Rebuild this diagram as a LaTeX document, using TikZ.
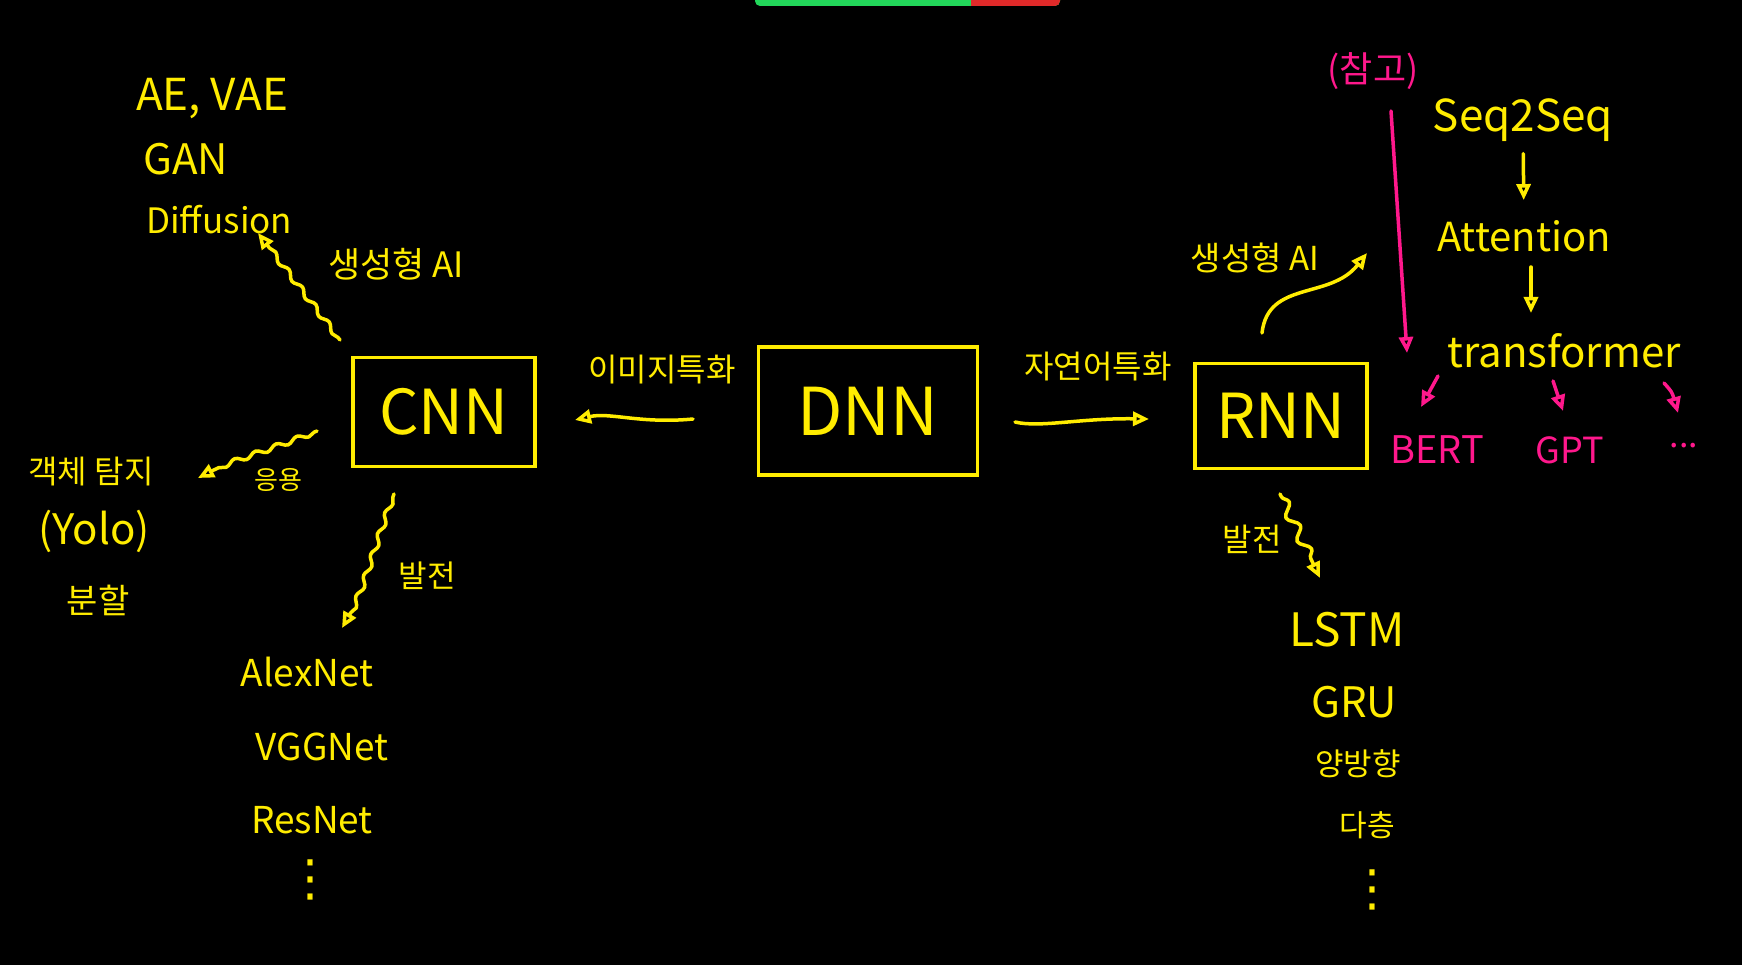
\documentclass[tikz,border=0pt]{standalone}
\usepackage{fontspec}
\setmainfont{Noto Sans CJK KR}
\newfontfamily\symfont{DejaVu Sans}
\usetikzlibrary{positioning,arrows.meta,decorations.pathmorphing}
\definecolor{penyellow}{RGB}{255,236,0}
\definecolor{penpink}{RGB}{255,24,140}
\definecolor{bargreen}{RGB}{34,214,90}
\definecolor{barred}{RGB}{224,42,42}
\newcommand{\fsz}[1]{\fontsize{#1}{#1}\selectfont}
\tikzset{
  pen/.style = {draw=penyellow, line width=3.5pt, line cap=round, line join=round},
  pinkpen/.style = {pen, draw=penpink},
  netbox/.style = {draw=penyellow, line width=3.5pt, rectangle, text=penyellow,
    inner sep=0pt},% box of a network family
  word/.style = {text=penyellow, inner sep=0pt},
  pinkword/.style = {word, text=penpink},
  dotcol/.style = {word, font=\symfont\fsz{50}},% vertical dots
  tip/.style = {-{Triangle[open,length=16pt,width=14pt]}},
  wavy/.style = {decorate, decoration={snake, amplitude=2.5pt,
    segment length=22pt, pre length=3pt, post length=14pt}},
  bigwavy/.style = {decorate, decoration={snake, amplitude=5pt,
    segment length=26pt, pre length=3pt, post length=14pt}}
}

\begin{document}
\begin{tikzpicture}[x=1pt,y=-1pt]
\useasboundingbox (0,0) rectangle (1742,965);
\fill[black] (0,0) rectangle (1742,965);
% top bar
\fill[bargreen, rounded corners=5pt] (755,-8) rectangle (1060,6);
\fill[barred, rounded corners=5pt] (971,-8) rectangle (1060,6);
\fill[barred] (971,-8) rectangle (990,6);

% network boxes
\node[netbox, minimum width=182pt, minimum height=109pt, font=\fsz{62}] (cnn) at (444,412) {CNN};
\node[netbox, minimum width=219pt, minimum height=128pt, font=\fsz{66}] (dnn) at (868,411) {DNN};
\node[netbox, minimum width=172pt, minimum height=105pt, font=\fsz{62}] (rnn) at (1281,416) {RNN};

% CNN side
\node[word, anchor=west, font=\fsz{44}] (aevae) at (136,99) {AE, VAE};
\node[word, anchor=west, font=\fsz{42}] (gan) at (143,159) {GAN};
\node[word, anchor=west, font=\fsz{35}] (diff) at (146,220) {Diffusion};
\node[word, font=\fsz{35}] (gencnn) at (396,264) {생성형 AI};
\node[word, font=\fsz{32}] (detect) at (91,472) {객체 탐지};
\node[word, font=\fsz{42}] (yolo) at (94,531) {(Yolo)};
\node[word, font=\fsz{34}] (segm) at (98,600) {분할};
\node[word, font=\fsz{26}] (apply) at (278,480) {응용};
\node[word, font=\fsz{31}] (devcnn) at (427,576) {발전};
\node[word, font=\fsz{37}] (alex) at (307,672) {AlexNet};
\node[word, font=\fsz{37}] (vgg) at (322,747) {VGGNet};
\node[word, font=\fsz{37}] (resnet) at (312,820) {ResNet};
\node[dotcol] (cnndots) at (310,880) {⋮};

% between the boxes
\node[word, font=\fsz{32}] (imgspec) at (662,370) {이미지특화};
\node[word, font=\fsz{32}] (nlpspec) at (1098,367) {자연어특화};

% RNN side
\node[word, font=\fsz{33}] (genrnn) at (1255,258) {생성형 AI};
\node[word, font=\fsz{32}] (devrnn) at (1252,539) {발전};
\node[word, font=\fsz{46}] (lstm) at (1347,630) {LSTM};
\node[word, font=\fsz{42}] (gru) at (1354,702) {GRU};
\node[word, font=\fsz{31}] (bidir) at (1358,764) {양방향};
\node[word, font=\fsz{30}] (multi) at (1367,825) {다층};
\node[dotcol] (rnndots) at (1372,890) {⋮};

% transformer line
\node[pinkword, font=\fsz{36}] (refnote) at (1373,71) {(참고)};
\node[word, font=\fsz{44}] (seqseq) at (1523,120) {Seq2Seq};
\node[word, font=\fsz{40}] (attn) at (1524,236) {Attention};
\node[word, font=\fsz{42}] (trans) at (1564,351) {transformer};
\node[pinkword, font=\fsz{38}] (bert) at (1437,450) {BERT};
\node[pinkword, font=\fsz{36}] (gpt) at (1570,450) {GPT};
\node[pinkword, font=\fsz{34}] (more) at (1684,446) {...};

% free ends of the connectors
\coordinate (cnngen) at (340,340);
\coordinate (difftip) at (258,233);
\coordinate (cnnapp) at (317,431);
\coordinate (apptip) at (198,478);
\coordinate (cnndev) at (394,494);
\coordinate (devtip) at (342,628);
\coordinate (dnnimg) at (693,419);
\coordinate (imgtip) at (575,420);
\coordinate (dnnnlp) at (1015,422);
\coordinate (nlptip) at (1149,419);
\coordinate (rnngen) at (1262,333);
\coordinate (gentip) at (1367,253);
\coordinate (rnndev) at (1280,494);
\coordinate (rdevtip) at (1320,578);
\coordinate (refstart) at (1391,111);
\coordinate (reftip) at (1407,353);
\coordinate (attnout) at (1531,267);
\coordinate (transin) at (1531,313);
\coordinate (bertout) at (1438,376);
\coordinate (berttip) at (1421,407);
\coordinate (gptout) at (1553,381);
\coordinate (gpttip) at (1563,411);
\coordinate (moreout) at (1664,383);
\coordinate (moretip) at (1678,413);

% connectors
\draw[pen, tip, wavy] (cnngen) -- (difftip);
\draw[pen, tip, wavy] (cnnapp) .. controls (270,450) and (230,460) .. (apptip);
\draw[pen, tip, wavy] (cnndev) .. controls (370,560) and (365,590) .. (devtip);
\draw[pen, tip] (dnnimg) .. controls (640,424) and (610,412) .. (imgtip);
\draw[pen, tip] (dnnnlp) .. controls (1040,428) and (1080,418) .. (nlptip);
\draw[pen, tip] (rnngen) .. controls (1268,280) and (1330,300) .. (gentip);
\draw[pen, tip, bigwavy] (rnndev) -- (rdevtip);
\draw[pinkpen, tip] (refstart) -- (reftip);
\draw[pen, tip, shorten <=12pt, shorten >=20pt] (seqseq) -- (attn);
\draw[pen, tip] (attnout) -- (transin);
\draw[pinkpen, tip] (bertout) -- (berttip);
\draw[pinkpen, tip] (gptout) -- (gpttip);
\draw[pinkpen, tip] (moreout) .. controls (1672,392) .. (moretip);
\end{tikzpicture}
\end{document}
